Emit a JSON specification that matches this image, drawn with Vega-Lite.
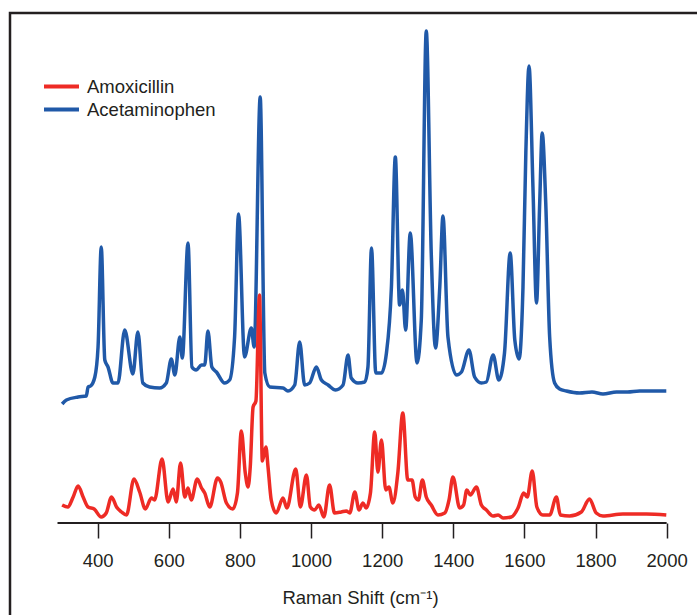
{
  "$schema": "https://vega.github.io/schema/vega-lite/v6.json",
  "width": 700,
  "height": 620,
  "padding": {"left": 10, "top": 13, "right": 0, "bottom": 0},
  "autosize": {"type": "pad"},
  "background": "white",
  "config": {
    "view": {"stroke": "#231f20", "strokeWidth": 2.5},
    "font": "Liberation Sans"
  },
  "datasets": {
    "spectra": [
      {"compound": "Acetaminophen", "shift": 300, "intensity": 119},
      {"compound": "Acetaminophen", "shift": 312, "intensity": 123},
      {"compound": "Acetaminophen", "shift": 345, "intensity": 126},
      {"compound": "Acetaminophen", "shift": 368, "intensity": 127},
      {"compound": "Acetaminophen", "shift": 373, "intensity": 136},
      {"compound": "Acetaminophen", "shift": 380, "intensity": 137},
      {"compound": "Acetaminophen", "shift": 392, "intensity": 146},
      {"compound": "Acetaminophen", "shift": 401, "intensity": 176},
      {"compound": "Acetaminophen", "shift": 410, "intensity": 276},
      {"compound": "Acetaminophen", "shift": 420, "intensity": 163},
      {"compound": "Acetaminophen", "shift": 429, "intensity": 156},
      {"compound": "Acetaminophen", "shift": 443, "intensity": 140},
      {"compound": "Acetaminophen", "shift": 457, "intensity": 140},
      {"compound": "Acetaminophen", "shift": 476, "intensity": 193},
      {"compound": "Acetaminophen", "shift": 499, "intensity": 149},
      {"compound": "Acetaminophen", "shift": 513, "intensity": 191},
      {"compound": "Acetaminophen", "shift": 527, "intensity": 140},
      {"compound": "Acetaminophen", "shift": 546, "intensity": 136},
      {"compound": "Acetaminophen", "shift": 574, "intensity": 135},
      {"compound": "Acetaminophen", "shift": 593, "intensity": 140},
      {"compound": "Acetaminophen", "shift": 607, "intensity": 164},
      {"compound": "Acetaminophen", "shift": 617, "intensity": 148},
      {"compound": "Acetaminophen", "shift": 631, "intensity": 186},
      {"compound": "Acetaminophen", "shift": 638, "intensity": 165},
      {"compound": "Acetaminophen", "shift": 654, "intensity": 280},
      {"compound": "Acetaminophen", "shift": 665, "intensity": 156},
      {"compound": "Acetaminophen", "shift": 677, "intensity": 153},
      {"compound": "Acetaminophen", "shift": 692, "intensity": 158},
      {"compound": "Acetaminophen", "shift": 701, "intensity": 158},
      {"compound": "Acetaminophen", "shift": 710, "intensity": 192},
      {"compound": "Acetaminophen", "shift": 721, "intensity": 156},
      {"compound": "Acetaminophen", "shift": 734, "intensity": 151},
      {"compound": "Acetaminophen", "shift": 757, "intensity": 140},
      {"compound": "Acetaminophen", "shift": 771, "intensity": 143},
      {"compound": "Acetaminophen", "shift": 785, "intensity": 186},
      {"compound": "Acetaminophen", "shift": 796, "intensity": 309},
      {"compound": "Acetaminophen", "shift": 813, "intensity": 166},
      {"compound": "Acetaminophen", "shift": 832, "intensity": 195},
      {"compound": "Acetaminophen", "shift": 840, "intensity": 176},
      {"compound": "Acetaminophen", "shift": 857, "intensity": 426},
      {"compound": "Acetaminophen", "shift": 870, "intensity": 150},
      {"compound": "Acetaminophen", "shift": 884, "intensity": 136},
      {"compound": "Acetaminophen", "shift": 921, "intensity": 135},
      {"compound": "Acetaminophen", "shift": 935, "intensity": 132},
      {"compound": "Acetaminophen", "shift": 954, "intensity": 138},
      {"compound": "Acetaminophen", "shift": 968, "intensity": 181},
      {"compound": "Acetaminophen", "shift": 982, "intensity": 138},
      {"compound": "Acetaminophen", "shift": 996, "intensity": 140},
      {"compound": "Acetaminophen", "shift": 1015, "intensity": 156},
      {"compound": "Acetaminophen", "shift": 1029, "intensity": 143},
      {"compound": "Acetaminophen", "shift": 1048, "intensity": 138},
      {"compound": "Acetaminophen", "shift": 1069, "intensity": 133},
      {"compound": "Acetaminophen", "shift": 1090, "intensity": 138},
      {"compound": "Acetaminophen", "shift": 1104, "intensity": 168},
      {"compound": "Acetaminophen", "shift": 1113, "intensity": 145},
      {"compound": "Acetaminophen", "shift": 1132, "intensity": 140},
      {"compound": "Acetaminophen", "shift": 1151, "intensity": 141},
      {"compound": "Acetaminophen", "shift": 1160, "intensity": 156},
      {"compound": "Acetaminophen", "shift": 1170, "intensity": 275},
      {"compound": "Acetaminophen", "shift": 1182, "intensity": 150},
      {"compound": "Acetaminophen", "shift": 1198, "intensity": 150},
      {"compound": "Acetaminophen", "shift": 1212, "intensity": 170},
      {"compound": "Acetaminophen", "shift": 1226, "intensity": 236},
      {"compound": "Acetaminophen", "shift": 1237, "intensity": 366},
      {"compound": "Acetaminophen", "shift": 1249, "intensity": 218},
      {"compound": "Acetaminophen", "shift": 1257, "intensity": 233},
      {"compound": "Acetaminophen", "shift": 1266, "intensity": 193},
      {"compound": "Acetaminophen", "shift": 1279, "intensity": 290},
      {"compound": "Acetaminophen", "shift": 1298, "intensity": 160},
      {"compound": "Acetaminophen", "shift": 1310, "intensity": 203},
      {"compound": "Acetaminophen", "shift": 1324, "intensity": 492},
      {"compound": "Acetaminophen", "shift": 1338, "intensity": 270},
      {"compound": "Acetaminophen", "shift": 1350, "intensity": 175},
      {"compound": "Acetaminophen", "shift": 1362, "intensity": 236},
      {"compound": "Acetaminophen", "shift": 1371, "intensity": 307},
      {"compound": "Acetaminophen", "shift": 1385, "intensity": 186},
      {"compound": "Acetaminophen", "shift": 1409, "intensity": 148},
      {"compound": "Acetaminophen", "shift": 1423, "intensity": 151},
      {"compound": "Acetaminophen", "shift": 1444, "intensity": 173},
      {"compound": "Acetaminophen", "shift": 1460, "intensity": 146},
      {"compound": "Acetaminophen", "shift": 1479, "intensity": 140},
      {"compound": "Acetaminophen", "shift": 1493, "intensity": 141},
      {"compound": "Acetaminophen", "shift": 1512, "intensity": 168},
      {"compound": "Acetaminophen", "shift": 1528, "intensity": 143},
      {"compound": "Acetaminophen", "shift": 1544, "intensity": 170},
      {"compound": "Acetaminophen", "shift": 1560, "intensity": 270},
      {"compound": "Acetaminophen", "shift": 1573, "intensity": 183},
      {"compound": "Acetaminophen", "shift": 1585, "intensity": 164},
      {"compound": "Acetaminophen", "shift": 1596, "intensity": 236},
      {"compound": "Acetaminophen", "shift": 1604, "intensity": 370},
      {"compound": "Acetaminophen", "shift": 1613, "intensity": 457},
      {"compound": "Acetaminophen", "shift": 1624, "intensity": 336},
      {"compound": "Acetaminophen", "shift": 1634, "intensity": 220},
      {"compound": "Acetaminophen", "shift": 1643, "intensity": 320},
      {"compound": "Acetaminophen", "shift": 1650, "intensity": 390},
      {"compound": "Acetaminophen", "shift": 1660, "intensity": 320},
      {"compound": "Acetaminophen", "shift": 1671, "intensity": 186},
      {"compound": "Acetaminophen", "shift": 1685, "intensity": 140},
      {"compound": "Acetaminophen", "shift": 1699, "intensity": 134},
      {"compound": "Acetaminophen", "shift": 1718, "intensity": 132},
      {"compound": "Acetaminophen", "shift": 1755, "intensity": 130},
      {"compound": "Acetaminophen", "shift": 1790, "intensity": 131},
      {"compound": "Acetaminophen", "shift": 1821, "intensity": 129},
      {"compound": "Acetaminophen", "shift": 1859, "intensity": 131},
      {"compound": "Acetaminophen", "shift": 1890, "intensity": 131},
      {"compound": "Acetaminophen", "shift": 1924, "intensity": 132},
      {"compound": "Acetaminophen", "shift": 1960, "intensity": 132},
      {"compound": "Acetaminophen", "shift": 1999, "intensity": 132},
      {"compound": "Amoxicillin", "shift": 300, "intensity": 18},
      {"compound": "Amoxicillin", "shift": 316, "intensity": 16},
      {"compound": "Amoxicillin", "shift": 331, "intensity": 26},
      {"compound": "Amoxicillin", "shift": 345, "intensity": 37},
      {"compound": "Amoxicillin", "shift": 359, "intensity": 26},
      {"compound": "Amoxicillin", "shift": 373, "intensity": 16},
      {"compound": "Amoxicillin", "shift": 390, "intensity": 14},
      {"compound": "Amoxicillin", "shift": 410, "intensity": 6},
      {"compound": "Amoxicillin", "shift": 424, "intensity": 10},
      {"compound": "Amoxicillin", "shift": 439, "intensity": 26},
      {"compound": "Amoxicillin", "shift": 453, "intensity": 16},
      {"compound": "Amoxicillin", "shift": 467, "intensity": 11},
      {"compound": "Amoxicillin", "shift": 481, "intensity": 8},
      {"compound": "Amoxicillin", "shift": 502, "intensity": 44},
      {"compound": "Amoxicillin", "shift": 518, "intensity": 31},
      {"compound": "Amoxicillin", "shift": 534, "intensity": 14},
      {"compound": "Amoxicillin", "shift": 551, "intensity": 25},
      {"compound": "Amoxicillin", "shift": 560, "intensity": 23},
      {"compound": "Amoxicillin", "shift": 581, "intensity": 64},
      {"compound": "Amoxicillin", "shift": 598, "intensity": 21},
      {"compound": "Amoxicillin", "shift": 612, "intensity": 34},
      {"compound": "Amoxicillin", "shift": 621, "intensity": 21},
      {"compound": "Amoxicillin", "shift": 633, "intensity": 60},
      {"compound": "Amoxicillin", "shift": 645, "intensity": 26},
      {"compound": "Amoxicillin", "shift": 654, "intensity": 35},
      {"compound": "Amoxicillin", "shift": 663, "intensity": 23},
      {"compound": "Amoxicillin", "shift": 680, "intensity": 44},
      {"compound": "Amoxicillin", "shift": 692, "intensity": 35},
      {"compound": "Amoxicillin", "shift": 701, "intensity": 30},
      {"compound": "Amoxicillin", "shift": 715, "intensity": 16},
      {"compound": "Amoxicillin", "shift": 737, "intensity": 45},
      {"compound": "Amoxicillin", "shift": 746, "intensity": 41},
      {"compound": "Amoxicillin", "shift": 762, "intensity": 20},
      {"compound": "Amoxicillin", "shift": 780, "intensity": 14},
      {"compound": "Amoxicillin", "shift": 793, "intensity": 30},
      {"compound": "Amoxicillin", "shift": 804, "intensity": 92},
      {"compound": "Amoxicillin", "shift": 815, "intensity": 50},
      {"compound": "Amoxicillin", "shift": 823, "intensity": 36},
      {"compound": "Amoxicillin", "shift": 829, "intensity": 56},
      {"compound": "Amoxicillin", "shift": 837, "intensity": 116},
      {"compound": "Amoxicillin", "shift": 845, "intensity": 122},
      {"compound": "Amoxicillin", "shift": 855, "intensity": 228},
      {"compound": "Amoxicillin", "shift": 863, "intensity": 62},
      {"compound": "Amoxicillin", "shift": 873, "intensity": 76},
      {"compound": "Amoxicillin", "shift": 879, "intensity": 56},
      {"compound": "Amoxicillin", "shift": 888, "intensity": 23},
      {"compound": "Amoxicillin", "shift": 902, "intensity": 10},
      {"compound": "Amoxicillin", "shift": 921, "intensity": 25},
      {"compound": "Amoxicillin", "shift": 932, "intensity": 15},
      {"compound": "Amoxicillin", "shift": 957, "intensity": 54},
      {"compound": "Amoxicillin", "shift": 970, "intensity": 16},
      {"compound": "Amoxicillin", "shift": 987, "intensity": 48},
      {"compound": "Amoxicillin", "shift": 998, "intensity": 16},
      {"compound": "Amoxicillin", "shift": 1010, "intensity": 13},
      {"compound": "Amoxicillin", "shift": 1022, "intensity": 18},
      {"compound": "Amoxicillin", "shift": 1036, "intensity": 6},
      {"compound": "Amoxicillin", "shift": 1052, "intensity": 38},
      {"compound": "Amoxicillin", "shift": 1066, "intensity": 10},
      {"compound": "Amoxicillin", "shift": 1085, "intensity": 11},
      {"compound": "Amoxicillin", "shift": 1099, "intensity": 12},
      {"compound": "Amoxicillin", "shift": 1109, "intensity": 10},
      {"compound": "Amoxicillin", "shift": 1123, "intensity": 31},
      {"compound": "Amoxicillin", "shift": 1135, "intensity": 13},
      {"compound": "Amoxicillin", "shift": 1146, "intensity": 20},
      {"compound": "Amoxicillin", "shift": 1155, "intensity": 15},
      {"compound": "Amoxicillin", "shift": 1167, "intensity": 30},
      {"compound": "Amoxicillin", "shift": 1179, "intensity": 91},
      {"compound": "Amoxicillin", "shift": 1188, "intensity": 51},
      {"compound": "Amoxicillin", "shift": 1198, "intensity": 83},
      {"compound": "Amoxicillin", "shift": 1210, "intensity": 33},
      {"compound": "Amoxicillin", "shift": 1219, "intensity": 36},
      {"compound": "Amoxicillin", "shift": 1230, "intensity": 20},
      {"compound": "Amoxicillin", "shift": 1244, "intensity": 50},
      {"compound": "Amoxicillin", "shift": 1258, "intensity": 110},
      {"compound": "Amoxicillin", "shift": 1272, "intensity": 43},
      {"compound": "Amoxicillin", "shift": 1284, "intensity": 43},
      {"compound": "Amoxicillin", "shift": 1293, "intensity": 26},
      {"compound": "Amoxicillin", "shift": 1302, "intensity": 23},
      {"compound": "Amoxicillin", "shift": 1313, "intensity": 43},
      {"compound": "Amoxicillin", "shift": 1324, "intensity": 26},
      {"compound": "Amoxicillin", "shift": 1338, "intensity": 18},
      {"compound": "Amoxicillin", "shift": 1357, "intensity": 8},
      {"compound": "Amoxicillin", "shift": 1376, "intensity": 10},
      {"compound": "Amoxicillin", "shift": 1388, "intensity": 23},
      {"compound": "Amoxicillin", "shift": 1399, "intensity": 46},
      {"compound": "Amoxicillin", "shift": 1418, "intensity": 15},
      {"compound": "Amoxicillin", "shift": 1429, "intensity": 18},
      {"compound": "Amoxicillin", "shift": 1438, "intensity": 33},
      {"compound": "Amoxicillin", "shift": 1448, "intensity": 28},
      {"compound": "Amoxicillin", "shift": 1465, "intensity": 36},
      {"compound": "Amoxicillin", "shift": 1479, "intensity": 18},
      {"compound": "Amoxicillin", "shift": 1493, "intensity": 13},
      {"compound": "Amoxicillin", "shift": 1512, "intensity": 7},
      {"compound": "Amoxicillin", "shift": 1526, "intensity": 8},
      {"compound": "Amoxicillin", "shift": 1540, "intensity": 5},
      {"compound": "Amoxicillin", "shift": 1563, "intensity": 6},
      {"compound": "Amoxicillin", "shift": 1582, "intensity": 15},
      {"compound": "Amoxicillin", "shift": 1598, "intensity": 30},
      {"compound": "Amoxicillin", "shift": 1608, "intensity": 26},
      {"compound": "Amoxicillin", "shift": 1622, "intensity": 52},
      {"compound": "Amoxicillin", "shift": 1635, "intensity": 16},
      {"compound": "Amoxicillin", "shift": 1652, "intensity": 8},
      {"compound": "Amoxicillin", "shift": 1671, "intensity": 8},
      {"compound": "Amoxicillin", "shift": 1690, "intensity": 26},
      {"compound": "Amoxicillin", "shift": 1701, "intensity": 8},
      {"compound": "Amoxicillin", "shift": 1727, "intensity": 7},
      {"compound": "Amoxicillin", "shift": 1760, "intensity": 11},
      {"compound": "Amoxicillin", "shift": 1783, "intensity": 24},
      {"compound": "Amoxicillin", "shift": 1802, "intensity": 10},
      {"compound": "Amoxicillin", "shift": 1821, "intensity": 7},
      {"compound": "Amoxicillin", "shift": 1877, "intensity": 9},
      {"compound": "Amoxicillin", "shift": 1943, "intensity": 9},
      {"compound": "Amoxicillin", "shift": 1999, "intensity": 8}
    ],
    "baseline": [{"from": 287, "to": 2000, "level": 0}]
  },
  "encoding": {
    "x": {
      "field": "shift",
      "type": "quantitative",
      "scale": {"domain": [153.4, 2121.9], "nice": false, "zero": false},
      "axis": {
        "values": [400, 600, 800, 1000, 1200, 1400, 1600, 1800, 2000],
        "format": "d",
        "offset": -110,
        "domain": false,
        "grid": false,
        "tickSize": 15,
        "tickWidth": 1.5,
        "tickColor": "#231f20",
        "labelFontSize": 18.5,
        "labelColor": "#231f20",
        "labelPadding": 13,
        "labelFlush": false,
        "title": "Raman Shift (cm⁻¹)",
        "titleFontSize": 18.5,
        "titleFontWeight": "normal",
        "titleColor": "#231f20",
        "titlePadding": 19
      }
    },
    "y": {
      "field": "intensity",
      "type": "quantitative",
      "scale": {"domain": [-110, 510], "nice": false, "zero": false},
      "axis": null
    }
  },
  "layer": [
    {
      "data": {"name": "spectra"},
      "transform": [{"filter": "datum.compound === 'Acetaminophen'"}],
      "mark": {"type": "line", "strokeWidth": 3.5, "interpolate": "monotone"},
      "encoding": {
        "color": {
          "field": "compound",
          "type": "nominal",
          "scale": {"domain": ["Amoxicillin", "Acetaminophen"], "range": ["#ee2b25", "#2059a8"]},
          "legend": {
            "title": null,
            "orient": "none",
            "legendX": 32,
            "legendY": 62,
            "symbolType": "stroke",
            "symbolSize": 1225,
            "symbolStrokeWidth": 4,
            "labelFontSize": 18.5,
            "labelOffset": 6,
            "labelColor": "#231f20",
            "clipHeight": 23,
            "rowPadding": 0,
            "padding": 0
          }
        }
      }
    },
    {
      "data": {"name": "spectra"},
      "transform": [{"filter": "datum.compound === 'Amoxicillin'"}],
      "mark": {"type": "line", "strokeWidth": 3.5, "interpolate": "monotone"},
      "encoding": {
        "color": {"field": "compound", "type": "nominal"}
      }
    },
    {
      "data": {"name": "baseline"},
      "mark": {"type": "rule", "color": "#231f20", "strokeWidth": 2},
      "encoding": {
        "x": {"field": "from", "type": "quantitative"},
        "x2": {"field": "to"},
        "y": {"field": "level", "type": "quantitative"}
      }
    }
  ]
}
